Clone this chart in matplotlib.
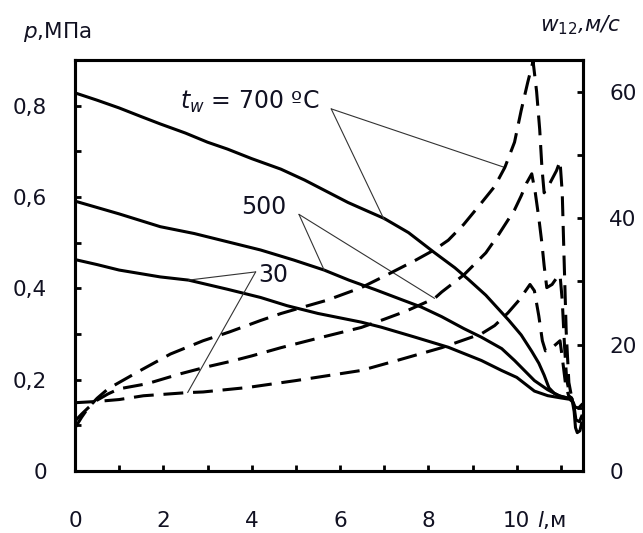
import matplotlib
matplotlib.use("Agg")
import matplotlib.pyplot as plt

# pressure curves (solid, left axis), p in MPa
l_p700 = [0, 0.5, 1.0, 1.5, 1.93, 2.5, 3.0, 3.45, 4.0, 4.66, 5.2, 5.7, 6.18, 6.6, 7.0, 7.55, 8.14,
          8.6, 8.9, 9.3, 9.82, 10.1, 10.34, 10.5, 10.62, 10.73, 10.85, 11.0, 11.15, 11.25, 11.3,
          11.33, 11.37, 11.43, 11.47]
p700 = [0.828, 0.812, 0.795, 0.776, 0.76, 0.74, 0.72, 0.705, 0.684, 0.661, 0.637, 0.612, 0.588,
        0.57, 0.553, 0.522, 0.478, 0.445, 0.42, 0.385, 0.33, 0.298, 0.262, 0.236, 0.21, 0.182,
        0.17, 0.163, 0.16, 0.158, 0.13, 0.095, 0.084, 0.088, 0.105]

l_p500 = [0, 0.5, 1.0, 1.93, 2.7, 3.45, 4.2, 4.95, 5.64, 6.2, 6.8, 7.4, 7.84, 8.3, 8.8, 9.2, 9.66,
          9.95, 10.4, 10.7, 10.95, 11.15, 11.25, 11.3, 11.34, 11.42, 11.47]
p500 = [0.591, 0.577, 0.563, 0.535, 0.52, 0.502, 0.484, 0.462, 0.44, 0.418, 0.397, 0.375, 0.359,
        0.338, 0.312, 0.293, 0.268, 0.242, 0.198, 0.178, 0.165, 0.16, 0.158, 0.14, 0.112, 0.108,
        0.12]

l_p30 = [0, 0.5, 1.0, 1.93, 2.57, 3.45, 4.2, 4.8, 5.5, 6.48, 6.93, 7.7, 8.45, 9.2, 9.66, 10.0,
         10.4, 10.7, 11.0, 11.2, 11.28, 11.32, 11.4, 11.47]
p30 = [0.463, 0.452, 0.44, 0.425, 0.418, 0.398, 0.38, 0.362, 0.345, 0.326, 0.315, 0.293, 0.271,
       0.242, 0.22, 0.205, 0.175, 0.165, 0.16, 0.157, 0.15, 0.14, 0.138, 0.145]

# velocity curves (dashed, right axis), w12 in m/s
l_w700 = [0, 0.15, 0.3, 0.5, 0.75, 1.0, 1.48, 2.16, 2.9, 3.5, 4.2, 4.66, 5.2, 5.7, 6.48, 7.0, 7.7,
          8.14, 8.45, 8.8, 9.2, 9.5, 9.73, 9.95, 10.1, 10.25, 10.37, 10.45, 10.52, 10.57, 10.62,
          10.75, 10.9, 10.98, 11.03, 11.07, 11.12, 11.18, 11.25]
w700 = [6.8, 8.5, 10.0, 11.5, 13.0, 14.0, 15.9, 18.5, 20.6, 22.0, 23.8, 24.9, 26.0, 27.0, 29.0,
        30.8, 33.3, 35.0, 36.5, 39.0, 42.4, 45.0, 48.0, 52.0, 57.0, 61.5, 64.8, 60.0, 54.0, 48.0,
        44.0, 45.5, 47.5, 49.0, 44.0, 34.0, 22.0, 14.0, 11.4]

l_w500 = [0, 0.15, 0.3, 0.5, 0.75, 1.0, 1.63, 2.4, 3.0, 3.5, 4.0, 4.66, 5.5, 6.48, 7.0, 7.5, 8.14,
          8.3, 8.8, 9.3, 9.6, 9.95, 10.1, 10.22, 10.34, 10.42, 10.5, 10.57, 10.62, 10.68, 10.8,
          10.9, 10.98, 11.03, 11.08, 11.13, 11.2, 11.25]
w500 = [7.9, 9.0, 10.0, 11.2, 12.2, 13.0, 13.8, 15.4, 16.5, 17.3, 18.2, 19.5, 21.0, 22.7, 24.0,
        25.3, 27.3, 28.3, 31.0, 34.5, 37.5, 41.3, 43.5, 45.5, 47.0, 44.0, 40.0, 36.0, 32.5, 29.0,
        29.5, 30.5, 31.0, 27.0, 20.0, 14.5, 12.0, 11.4]

l_w30 = [0, 0.5, 1.0, 1.55, 2.55, 2.9, 3.9, 5.0, 6.48, 7.3, 8.3, 9.2, 9.5, 9.8, 10.05, 10.2, 10.3,
         10.4, 10.5, 10.58, 10.65, 10.8, 10.98, 11.03, 11.1, 11.17, 11.25]
w30 = [10.8, 11.0, 11.3, 11.9, 12.4, 12.5, 13.2, 14.3, 15.9, 17.5, 19.5, 21.7, 23.0, 25.0, 27.0,
       28.5, 29.5, 28.5, 24.5, 20.6, 19.0, 19.5, 20.6, 18.0, 14.0, 12.0, 11.4]

x_ticks = [0, 2, 4, 6, 8, 10]
x_labels = ["0", "2", "4", "6", "8", "10"]
p_ticks = [0, 0.2, 0.4, 0.6, 0.8]
p_labels = ["0", "0,2", "0,4", "0,6", "0,8"]
w_ticks = [0, 20, 40, 60]
w_labels = ["0", "20", "40", "60"]

ink = "#111122"
plt.rcParams["font.family"] = ["DejaVu Sans"]
plt.rcParams["mathtext.fontset"] = "dejavusans"

fig = plt.figure(figsize=(6.43, 5.33), dpi=100)
ax = fig.add_axes([75 / 643, 62 / 533, 508 / 643, 411 / 533])
ax2 = ax.twinx()

lw = 2.2
ax.plot(l_p700, p700, color="black", lw=lw)
ax.plot(l_p500, p500, color="black", lw=lw)
ax.plot(l_p30, p30, color="black", lw=lw)
for lx, wy in [(l_w700, w700), (l_w500, w500), (l_w30, w30)]:
    ax2.plot(lx, wy, color="black", lw=lw, dashes=(6.5, 3.2))

ax.set_xlim(0, 11.5)
ax.set_ylim(0, 0.9)
ax2.set_ylim(0, 65)

ax.set_xticks(x_ticks)
ax.set_xticklabels(x_labels)
ax.set_xticks([1, 3, 5, 7, 9, 11], minor=True)
ax.set_yticks(p_ticks)
ax.set_yticklabels(p_labels)
ax.set_yticks([0.1, 0.3, 0.5, 0.7], minor=True)
ax2.set_yticks(w_ticks)
ax2.set_yticklabels(w_labels)
ax2.set_yticks([10, 30, 50], minor=True)

for a in (ax, ax2):
    for s in a.spines.values():
        s.set_linewidth(2.2)
        s.set_color("black")
ax.tick_params(axis="x", which="both", direction="in", length=4.5, width=2, pad=29,
               labelsize=15.5, labelcolor=ink, top=False)
ax.tick_params(axis="y", which="both", direction="in", length=4.5, width=2, pad=20,
               labelsize=15.5, labelcolor=ink, right=False)
ax2.tick_params(axis="y", which="both", direction="in", length=4.5, width=2, pad=19,
                labelsize=15.5, labelcolor=ink)

# curve labels with leader lines
lead = dict(arrowstyle="-", lw=0.8, color="#333333", shrinkA=0, shrinkB=0)
ax.text(3.95, 0.808, "$t_w$ = 700 ºC", fontsize=17, color=ink, ha="center", va="center")
ax.annotate("", xy=(7.0, 0.55), xytext=(5.8, 0.793), arrowprops=lead)
ax.annotate("", xy=(9.73, 48), xycoords=ax2.transData, xytext=(5.8, 0.793),
            textcoords=ax.transData, arrowprops=lead)

ax.text(4.28, 0.579, "500", fontsize=17, color=ink, ha="center", va="center")
ax.annotate("", xy=(5.64, 0.44), xytext=(5.07, 0.562), arrowprops=lead)
ax.annotate("", xy=(8.14, 27.3), xycoords=ax2.transData, xytext=(5.07, 0.562),
            textcoords=ax.transData, arrowprops=lead)

ax.text(4.48, 0.43, "30", fontsize=17, color=ink, ha="center", va="center")
ax.annotate("", xy=(2.57, 0.418), xytext=(4.09, 0.436), arrowprops=lead)
ax.annotate("", xy=(2.55, 12.4), xycoords=ax2.transData, xytext=(4.09, 0.436),
            textcoords=ax.transData, arrowprops=lead)

# axis titles
fig.text(23 / 643, 1 - 32 / 533, "$p$,МПа", fontsize=15.5, color=ink, ha="left", va="center")
fig.text(540 / 643, 1 - 25 / 533, r"$w_{\mathit{12}}$,м/с", fontsize=15.5, color=ink,
         style="italic", ha="left", va="center")
fig.text(537 / 643, 1 - 520 / 533, "$l$,м", fontsize=15.5, color=ink, ha="left", va="center")

fig.savefig("out.png", dpi=100)
